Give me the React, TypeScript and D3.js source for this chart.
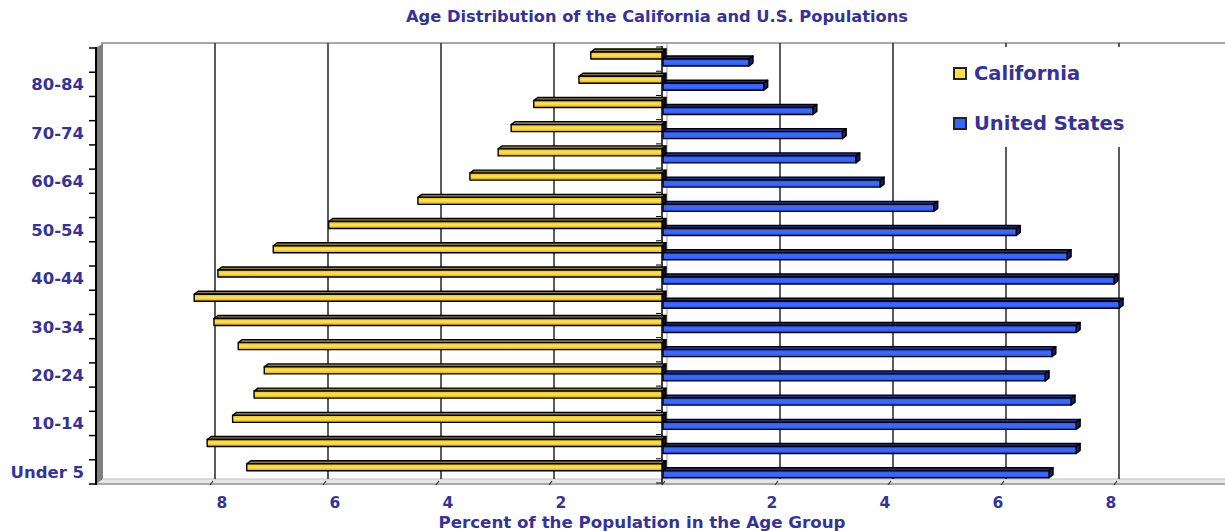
import React from 'react';
import * as d3 from 'd3';

// age groups, bottom to top
const ageGroups = [
  'Under 5', '5-9', '10-14', '15-19', '20-24', '25-29', '30-34', '35-39', '40-44',
  '45-49', '50-54', '55-59', '60-64', '65-69', '70-74', '75-79', '80-84', '85+'
];
const labeledGroups = ['Under 5', '10-14', '20-24', '30-34', '40-44', '50-54', '60-64', '70-74', '80-84'];

// percent of population, same order as ageGroups
const california = [7.35, 8.05, 7.6, 7.22, 7.04, 7.5, 7.93, 8.28, 7.86, 6.88, 5.9, 4.32, 3.4, 2.9, 2.67, 2.27, 1.47, 1.26];
const unitedStates = [6.85, 7.33, 7.33, 7.24, 6.78, 6.9, 7.33, 8.09, 8.0, 7.17, 6.27, 4.81, 3.86, 3.43, 3.19, 2.67, 1.8, 1.54];

const tickValues = [-8, -6, -4, -2, 2, 4, 6, 8];
const seriesNames = ['California', 'United States'];

const W = 1225;
const H = 531;
const TEXT = '#333399';
const FONT = '"DejaVu Sans", Verdana, sans-serif';
const DX = 4;  // 3d depth
const DY = -3;

const x = d3.scaleLinear().domain([-10, 10]).range([97, 1227]);
const y = d3.scaleBand<string>().domain([...ageGroups].reverse()).range([48, 484]);

const Bar3D = ({ x0, x1, y0, h, face, top, side }: any) => {
  const topPts = [[x0, y0], [x0 + DX, y0 + DY], [x1 + DX, y0 + DY], [x1, y0]];
  const sidePts = [[x1, y0], [x1 + DX, y0 + DY], [x1 + DX, y0 + h + DY], [x1, y0 + h]];
  return (
    <g stroke="#000" strokeWidth={1.4} strokeLinejoin="round">
      <polygon points={topPts.map(p => p.join(',')).join(' ')} fill={top} />
      <polygon points={sidePts.map(p => p.join(',')).join(' ')} fill={side} />
      <rect x={x0} y={y0} width={x1 - x0} height={h} fill={face} />
    </g>
  );
};

export default function App() {
  const zero = x(0);
  const bw = y.bandwidth();
  const boundaries = d3.range(ageGroups.length + 1).map(i => 48 + i * bw);

  return (
    <div style={{ position: 'absolute', left: 0, top: 0 }}>
      <svg width={W} height={H} style={{ display: 'block', background: '#fff' }} fontFamily={FONT}>
        <defs>
          <linearGradient id="yel" x1="0" y1="0" x2="0" y2="1">
            <stop offset="0" stopColor="#e8b800" />
            <stop offset="0.45" stopColor="#ffe45a" />
            <stop offset="1" stopColor="#e0ae00" />
          </linearGradient>
          <linearGradient id="blu" x1="0" y1="0" x2="0" y2="1">
            <stop offset="0" stopColor="#2c5af5" />
            <stop offset="0.45" stopColor="#3d6cff" />
            <stop offset="1" stopColor="#2a55ec" />
          </linearGradient>
        </defs>

        {/* title */}
        <text x={657} y={22} textAnchor="middle" fontSize={16.3} fontWeight="bold" fill={TEXT}>
          Age Distribution of the California and U.S. Populations
        </text>

        {/* back wall frame */}
        <line x1={101} y1={43} x2={W} y2={43} stroke="#a8a8a8" strokeWidth={2} />
        <polygon points={`96,484 103,479 ${W},479 ${W},484`} fill="#e6e6e6" />
        <line x1={103} y1={479} x2={W} y2={479} stroke="#c0c0c0" strokeWidth={1} />
        <line x1={96} y1={484} x2={W} y2={484} stroke="#909090" strokeWidth={1.5} />

        {/* grid lines on back wall */}
        {tickValues.map(v => (
          <line key={v} x1={x(v) + 5} x2={x(v) + 5} y1={43} y2={479} stroke="#333" strokeWidth={1.6} />
        ))}
        <line x1={zero + 5} x2={zero + 5} y1={43} y2={479} stroke="#999" strokeWidth={1} />
        <line x1={zero} x2={zero} y1={46} y2={484} stroke="#000" strokeWidth={1.5} />
        {boundaries.map((b, i) => (
          <line key={i} x1={zero - 6} x2={zero - 1} y1={b - 1} y2={b - 1} stroke="#000" strokeWidth={1} />
        ))}

        {/* bottom front ticks */}
        {tickValues.concat([0]).map(v => (
          <line key={v} x1={x(v)} y1={485} x2={x(v) + 3} y2={481} stroke="#333" strokeWidth={1.2} />
        ))}

        {/* left wall */}
        <polygon points="96,48 103,43 103,479 96,484" fill="#808080" />
        <line x1={96} x2={96} y1={47} y2={485} stroke="#000" strokeWidth={2} />
        {boundaries.map((b, i) => (
          <line key={i} x1={89} x2={96} y1={b} y2={b} stroke="#000" strokeWidth={1.5} />
        ))}

        {/* bars */}
        {ageGroups.map((g, i) => {
          const b = y(g)!;
          return (
            <g key={g}>
              <Bar3D x0={x(-california[i])} x1={zero} y0={b + 4} h={7}
                face="url(#yel)" top="#8a7a3c" side="#111" />
              <Bar3D x0={zero + 1} x1={x(unitedStates[i])} y0={b + 11} h={7}
                face="url(#blu)" top="#1c2f8c" side="#14206a" />
            </g>
          );
        })}

        {/* y labels */}
        {labeledGroups.map(g => (
          <text key={g} x={84} y={y(g)! + bw / 2 + 6} textAnchor="end" fontSize={16.5} fontWeight="bold" fill={TEXT}>
            {g}
          </text>
        ))}

        {/* x tick labels */}
        {tickValues.map(v => (
          <text key={v} x={x(v) + (v < 0 ? 12 : -3)} y={508} textAnchor="middle" fontSize={15.5} fontWeight="bold" fill={TEXT}>
            {Math.abs(v)}
          </text>
        ))}
        <text x={642} y={528} textAnchor="middle" fontSize={16.7} fontWeight="bold" fill={TEXT}>
          Percent of the Population in the Age Group
        </text>

        {/* legend */}
        <rect x={940} y={47} width={W - 940} height={100} fill="#fff" />
        {seriesNames.map((s, i) => (
          <g key={s} transform={`translate(954, ${66 + i * 50})`}>
            <rect x={0} y={2} width={12} height={11} fill={i === 0 ? '#ffdf40' : '#3366ff'} stroke="#222" strokeWidth={2} />
            <text x={20} y={13.5} fontSize={19.5} fontWeight="bold" fill={TEXT}>{s}</text>
          </g>
        ))}
      </svg>
    </div>
  );
}
